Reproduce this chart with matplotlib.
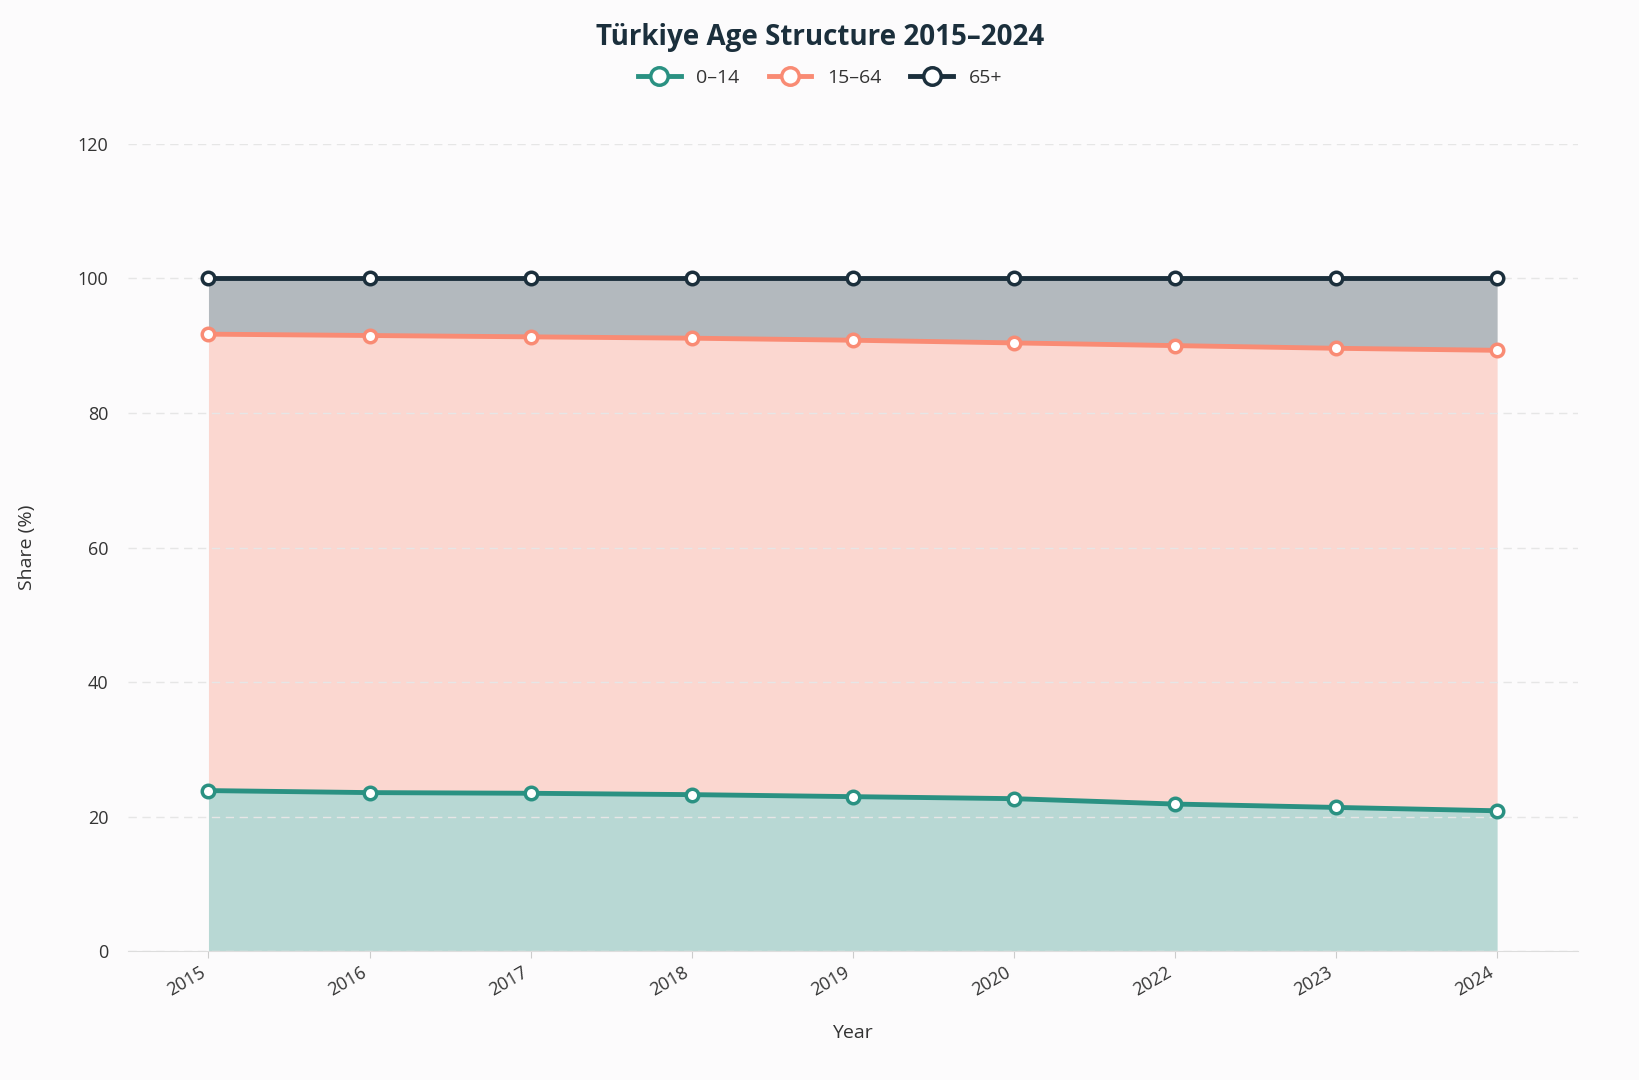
import matplotlib
matplotlib.use("Agg")
import matplotlib.pyplot as plt
import numpy as np

years = ["2015","2016","2017","2018","2019","2020","2022","2023","2024"]
young = [23.9, 23.6, 23.5, 23.3, 23.0, 22.7, 21.9, 21.4, 20.9]
working = [67.8, 67.9, 67.8, 67.8, 67.8, 67.7, 68.1, 68.2, 68.4]
old = [8.3, 8.5, 8.7, 8.9, 9.2, 9.6, 10.0, 10.4, 10.7]
names = ["0–14", "15–64", "65+"]
colors = ["#2a9182", "#f98b74", "#1b2f3c"]

plt.rcParams['font.family'] = ['Open Sans', 'DejaVu Sans']
fig = plt.figure(figsize=(16.4, 10.8), dpi=100, facecolor="#fcfbfc")
ax = fig.add_axes([0.078, 0.119, 0.884, 0.748])
ax.set_facecolor("#fcfbfc")
x = np.arange(len(years))
base = np.zeros(len(years))
for vals, name, c in zip([young, working, old], names, colors):
    top = base + np.array(vals)
    ax.fill_between(x, base, top, color=c, alpha=0.32, lw=0)
    ax.plot(x, top, color=c, lw=3.5, marker='o', ms=9, mfc='white', mec=c, mew=2.5, label=name, zorder=3)
    base = top
ax.set_xlim(-0.5, 8.5)
ax.set_ylim(0, 120)
ax.set_yticks(range(0, 121, 20))
ax.set_xticks(x)
ax.set_xticklabels(years, rotation=30, ha='right', fontsize=13, color="#333")
ax.tick_params(axis='y', labelsize=13, colors="#333", length=0, pad=14)
ax.tick_params(axis='x', length=5, color="#ccc")
ax.grid(axis='y', ls=(0, (6, 4)), color="#e6e6e6", lw=1)
for s in ["top", "right", "left"]:
    ax.spines[s].set_visible(False)
ax.spines["bottom"].set_color("#dddddd")
ax.set_xlabel("Year", fontsize=14, color="#333", labelpad=18)
ax.set_ylabel("Share (%)", fontsize=14, color="#333", labelpad=30)
fig.text(0.5, 0.965, "Türkiye Age Structure 2015–2024", ha='center', va='center',
         fontsize=20, fontweight='bold', color="#1b2f3c")
leg = fig.legend(loc='center', bbox_to_anchor=(0.5, 0.928), ncol=3, frameon=False,
                 fontsize=14, markerscale=1.4, handlelength=2.2, columnspacing=1.5)
for t in leg.get_texts():
    t.set_color("#333")
fig.savefig("out.png", dpi=100, facecolor=fig.get_facecolor())
